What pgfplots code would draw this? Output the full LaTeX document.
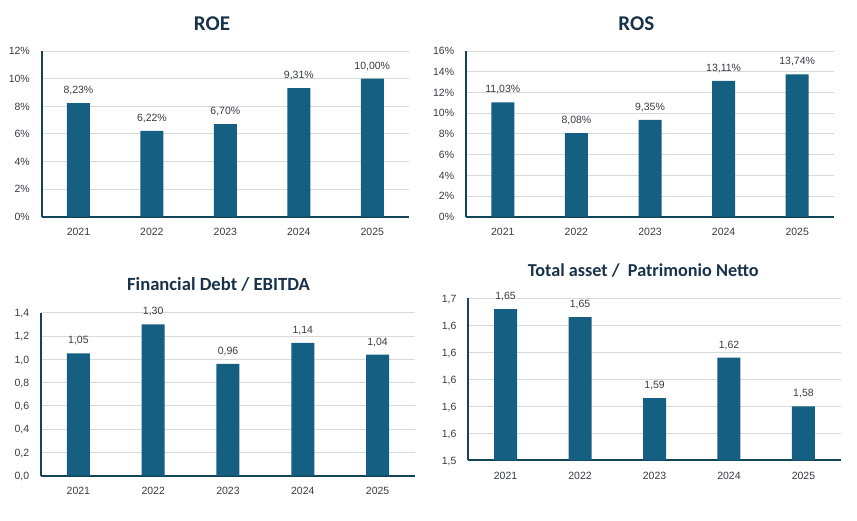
\documentclass[border=0pt]{standalone}
\usepackage{fontspec}
\setmainfont{Liberation Sans}
\newfontfamily\titlefont{Carlito}
\usepackage{pgfplots}
\pgfplotsset{compat=1.18}
\definecolor{barc}{HTML}{156082}
\definecolor{axisc}{HTML}{124559}
\definecolor{gridc}{HTML}{D9D9D9}
\definecolor{textc}{HTML}{3A3A48}
\definecolor{titlec}{HTML}{17324A}
\pgfplotsset{
  /pgf/number format/assume math mode=true,
  panel/.style={
    scale only axis, anchor=south west,
    xmin=-0.5, xmax=4.5, xtick={0,1,2,3,4},
    xticklabels={2021,2022,2023,2024,2025},
    enlargelimits=false,
    axis x line*=bottom, axis y line*=left,
    axis line style={-, draw=axisc, line width=2pt},
    ymajorgrids, major grid style={draw=gridc, line width=0.8pt},
    major tick length=0pt,
    tick label style={font=\fontsize{10.5}{12}\selectfont, text=textc, inner sep=0pt},
    xticklabel style={anchor=base, yshift=-19pt},
    yticklabel style={anchor=base east, xshift=-11.7pt, yshift=-3.8pt},
    every node near coord/.append style={font=\fontsize{10.5}{12}\selectfont, text=textc, inner sep=0pt, anchor=base, yshift=9.5pt},
  },
  bars/.style={ybar, bar width=23pt, fill=barc, draw=none},
}
\begin{document}
\begin{tikzpicture}
\useasboundingbox (0pt,0pt) rectangle (857pt,-520pt);

% ROE
\begin{axis}[panel, at={(41.7pt,-216.7pt)}, width=367.3pt, height=165.7pt,
  ymin=0, ymax=12, ytick={0,2,4,6,8,10,12},
  yticklabel={\pgfmathprintnumber[fixed,precision=0]{\tick}\%},
  nodes near coords={\pgfmathprintnumber[fixed,fixed zerofill,precision=2,use comma]{\pgfplotspointmeta}\%}]
\addplot[bars] coordinates {(0,8.23) (1,6.22) (2,6.70) (3,9.31) (4,10.00)};
\end{axis}

% ROS
\begin{axis}[panel, at={(466pt,-216.7pt)}, width=368pt, height=165.7pt,
  ymin=0, ymax=16, ytick={0,2,4,6,8,10,12,14,16},
  yticklabel={\pgfmathprintnumber[fixed,precision=0]{\tick}\%},
  nodes near coords={\pgfmathprintnumber[fixed,fixed zerofill,precision=2,use comma]{\pgfplotspointmeta}\%}]
\addplot[bars] coordinates {(0,11.03) (1,8.08) (2,9.35) (3,13.11) (4,13.74)};
\end{axis}

% Financial Debt / EBITDA
\begin{axis}[panel, at={(41pt,-475.7pt)}, width=374pt, height=163pt,
  ymin=0, ymax=1.4, ytick={0,0.2,0.4,0.6,0.8,1.0,1.2,1.4},
  yticklabel={\pgfmathprintnumber[fixed,fixed zerofill,precision=1,use comma]{\tick}},
  nodes near coords={\pgfmathprintnumber[fixed,fixed zerofill,precision=2,use comma]{\pgfplotspointmeta}}]
\addplot[bars] coordinates {(0,1.05) (1,1.30) (2,0.96) (3,1.14) (4,1.04)};
\end{axis}

% Total asset / Patrimonio Netto
\begin{axis}[panel, at={(468.3pt,-460.3pt)}, width=372.4pt, height=162pt,
  ymin=1.54, ymax=1.66, ytick={1.54,1.56,1.58,1.60,1.62,1.64,1.66},
  yticklabel={\pgfmathprintnumber[fixed,fixed zerofill,precision=1,use comma]{\tick}},
  nodes near coords={\pgfmathprintnumber[fixed,fixed zerofill,precision=2,use comma]{\pgfplotspointmeta}}]
\addplot[bars] coordinates {(0,1.652) (1,1.646) (2,1.586) (3,1.616) (4,1.580)};
\end{axis}

\node[font=\titlefont\bfseries\fontsize{21}{24}\selectfont, text=titlec, anchor=base] at (212pt,-30pt) {ROE};
\node[font=\titlefont\bfseries\fontsize{21}{24}\selectfont, text=titlec, anchor=base] at (636.3pt,-30pt) {ROS};
\node[font=\titlefont\bfseries\fontsize{18.6}{21}\selectfont, text=titlec, anchor=base] at (218.5pt,-290.7pt) {Financial Debt / EBITDA};
\node[font=\titlefont\bfseries\fontsize{18.2}{21}\selectfont, text=titlec, anchor=base] at (643.3pt,-276.7pt) {Total asset /~~Patrimonio Netto};
\end{tikzpicture}
\end{document}
